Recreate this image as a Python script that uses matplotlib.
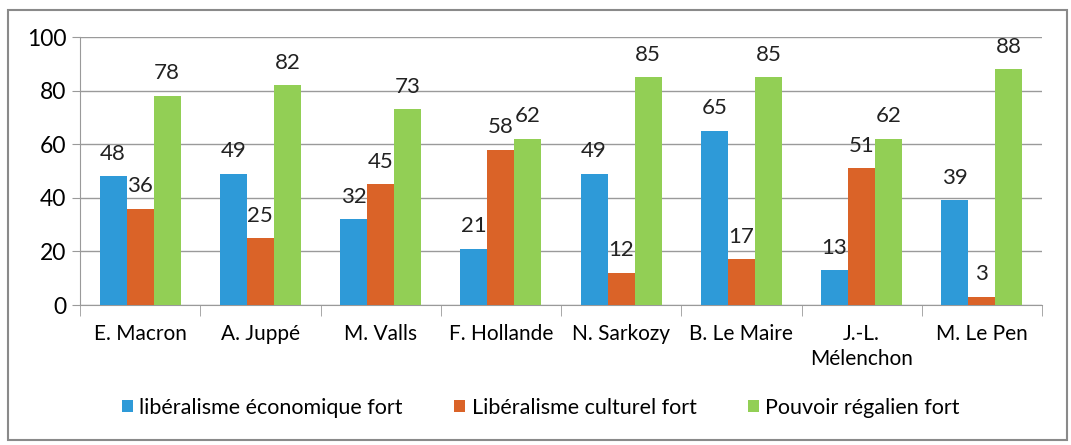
import matplotlib
matplotlib.use("Agg")
import matplotlib.pyplot as plt
import numpy as np
from matplotlib.patches import Rectangle

categories = ["E. Macron", "A. Juppé", "M. Valls", "F. Hollande", "N. Sarkozy",
              "B. Le Maire", "J.-L.\nMélenchon", "M. Le Pen"]
series_names = ["libéralisme économique fort", "Libéralisme culturel fort", "Pouvoir régalien fort"]
eco = [48, 49, 32, 21, 49, 65, 13, 39]
cult = [36, 25, 45, 58, 12, 17, 51, 3]
regal = [78, 82, 73, 62, 85, 85, 62, 88]
colors = ["#2E9AD8", "#DA6328", "#92CF55"]

plt.rcParams['font.family'] = ['Lato', 'DejaVu Sans']

fig = plt.figure(figsize=(10.71, 4.45), dpi=100)
ax = fig.add_axes([80/1071, 1-305/445, 962/1071, 268/445])

x = np.arange(len(categories))
w = 0.225
for i, (vals, name, c) in enumerate(zip([eco, cult, regal], series_names, colors)):
    pos = x + (i - 1) * w
    bars = ax.bar(pos, vals, w, color=c, label=name, zorder=3)
    for b, v in zip(bars, vals):
        ax.annotate(str(v), (b.get_x() + b.get_width()/2, v), xytext=(0, 9),
                    textcoords="offset points", ha="center", va="bottom",
                    fontsize=16, color="#222222")

ax.set_xlim(-0.5, len(categories) - 0.5)
ax.set_ylim(0, 100)
ax.set_yticks(range(0, 101, 20))
ax.yaxis.grid(True, color="#9a9a9a", linewidth=1, zorder=0)
for s in ["top", "right"]:
    ax.spines[s].set_visible(False)
ax.spines["left"].set_color("#9a9a9a")
ax.spines["bottom"].set_color("#9a9a9a")
ax.tick_params(axis="y", length=6, color="#9a9a9a", labelsize=16.5, pad=4)
ax.set_xticks(x)
ax.set_xticklabels(categories, fontsize=15, linespacing=1.3)
ax.tick_params(axis="x", length=0, pad=14)
ax.set_xticks(np.arange(-0.5, len(categories)), minor=True)
ax.tick_params(axis="x", which="minor", length=8, color="#9a9a9a")

fig.legend(loc="center", bbox_to_anchor=(541/1071, 1-408/445), ncol=3, frameon=False,
           fontsize=15.5, handlelength=0.5, handleheight=0.5, handletextpad=0.3,
           columnspacing=2.4)

fig.patches.append(Rectangle((8/1071, 1-440/445), 1059/1071, 430/445,
                             transform=fig.transFigure, fill=False,
                             edgecolor="#8a8a8a", linewidth=1.5))

fig.savefig("out.png", dpi=100)
